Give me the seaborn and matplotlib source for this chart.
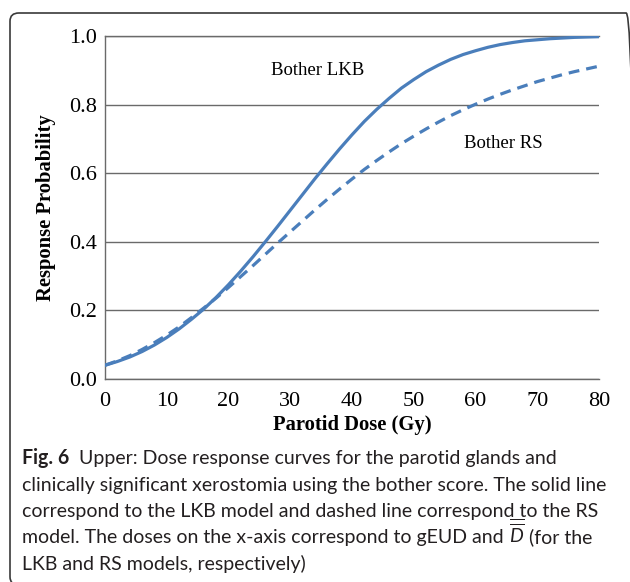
import matplotlib
matplotlib.use("Agg")
import numpy as np
import pandas as pd
import seaborn as sns
import matplotlib.pyplot as plt
from matplotlib.ticker import MultipleLocator
from matplotlib.patches import FancyBboxPatch

# ---- data ----
dose = [0, 2, 4, 6, 8, 10, 12, 14, 16, 18, 20, 22, 24, 26, 28, 30, 32, 34, 36, 38,
        40, 42, 44, 46, 48, 50, 52, 54, 56, 58, 60, 62, 64, 66, 68, 70, 72, 74, 76, 78, 80]
bother_lkb = [0.040, 0.051, 0.064, 0.080, 0.099, 0.121, 0.146, 0.174, 0.204, 0.238,
              0.275, 0.315, 0.357, 0.401, 0.446, 0.492, 0.538, 0.584, 0.628, 0.671,
              0.712, 0.751, 0.786, 0.818, 0.848, 0.873, 0.896, 0.915, 0.932, 0.946,
              0.957, 0.967, 0.975, 0.981, 0.986, 0.989, 0.992, 0.994, 0.996, 0.997, 0.998]
bother_rs = [0.040, 0.053, 0.068, 0.086, 0.106, 0.128, 0.152, 0.179, 0.207, 0.236,
             0.267, 0.299, 0.331, 0.364, 0.397, 0.429, 0.461, 0.493, 0.524, 0.554,
             0.583, 0.611, 0.637, 0.662, 0.686, 0.708, 0.729, 0.749, 0.768, 0.785,
             0.801, 0.816, 0.830, 0.843, 0.855, 0.867, 0.877, 0.887, 0.896, 0.904, 0.912]
model_names = ["LKB", "RS"]
curve_labels = ["Bother LKB", "Bother RS"]
x_ticks = [0, 10, 20, 30, 40, 50, 60, 70, 80]
y_ticks = [0.0, 0.2, 0.4, 0.6, 0.8, 1.0]

caption_lines = [
    [("Fig. 6", "bold", "normal"), ("  Upper: Dose response curves for the parotid glands and", "normal", "normal")],
    [("clinically significant xerostomia using the bother score. The solid line", "normal", "normal")],
    [("correspond to the LKB model and dashed line correspond to the RS", "normal", "normal")],
    [("model. The doses on the x-axis correspond to gEUD and ", "normal", "normal"),
     (r"$\overline{\overline{D}}$", "normal", "normal"), (" (for the", "normal", "normal")],
    [("LKB and RS models, respectively)", "normal", "normal")],
]

W, H = 630, 582
sns.set_theme(style="white")
plt.rcParams["font.family"] = ["Liberation Serif", "DejaVu Serif"]
plt.rcParams["mathtext.fontset"] = "custom"
plt.rcParams["mathtext.it"] = "Lato:italic"
plt.rcParams["mathtext.rm"] = "Lato"

fig = plt.figure(figsize=(W / 100, H / 100), dpi=100)
fig.patch.set_facecolor("white")

ax = fig.add_axes([105 / W, 1 - 379 / H, 494 / W, 343 / H])
ax.set_facecolor("white")

df = pd.DataFrame({
    "dose": dose + dose,
    "prob": bother_lkb + bother_rs,
    "model": [model_names[0]] * len(dose) + [model_names[1]] * len(dose),
})
blue = "#4a7ebb"
sns.lineplot(data=df, x="dose", y="prob", style="model",
             dashes={"LKB": "", "RS": (3.4, 2.2)}, color=blue, linewidth=2.3,
             legend=False, ax=ax, zorder=3)

ax.set_xlim(0, 80)
ax.set_ylim(0, 1.0)
ax.set_xticks(x_ticks)
ax.set_xticklabels([str(v) for v in x_ticks])
ax.set_yticks(y_ticks)
ax.set_yticklabels([f"{v:.1f}" for v in y_ticks])
ax.xaxis.set_minor_locator(MultipleLocator(5))
ax.yaxis.set_minor_locator(MultipleLocator(0.04))

gcol = "#6a6a6a"
ax.yaxis.grid(True, color=gcol, linewidth=1.0)
ax.xaxis.grid(False)
for s in ["left", "bottom", "top"]:
    ax.spines[s].set_visible(True)
    ax.spines[s].set_color(gcol)
    ax.spines[s].set_linewidth(1.0)
ax.spines["right"].set_visible(False)

ax.tick_params(axis="both", which="both", direction="in", colors=gcol,
               labelcolor="black", labelsize=16)
ax.tick_params(axis="x", which="major", length=5, width=1, pad=9, top=False)
ax.tick_params(axis="x", which="minor", length=4, width=1, top=False)
ax.tick_params(axis="y", which="major", length=4, width=1, pad=6, right=False)
ax.tick_params(axis="y", which="minor", length=4, width=1, right=False)

ax.set_xlabel("Parotid Dose (Gy)", fontsize=14.9, fontweight="bold", color="black")
ax.set_ylabel("Response Probability", fontsize=14.9, fontweight="bold", color="black")
ax.xaxis.set_label_coords(0.5, -0.104)
ax.yaxis.set_label_coords(-0.100, 0.5)

ax.text(34.5, 0.90, curve_labels[0], fontsize=13.5, ha="center", va="center", color="black")
ax.text(64.5, 0.688, curve_labels[1], fontsize=13.5, ha="center", va="center", color="black")

# ---- rounded frame ----
frame = FancyBboxPatch((10 / W, 1 - 585 / H), 625 / W, 572 / H,
                       boxstyle="round,pad=0,rounding_size=0.014",
                       transform=fig.transFigure, fill=False,
                       edgecolor="#3a3a3a", linewidth=1.2, clip_on=False)
fig.add_artist(frame)

# ---- caption ----
cap_family = ["Lato", "DejaVu Sans"]
renderer = fig.canvas.get_renderer()
probe = fig.text(0, 0, caption_lines[1][0][0], fontsize=10, family=cap_family)
wid = probe.get_window_extent(renderer).width
probe.remove()
cap_size = 10 * 586 / wid

baselines = [464, 490.5, 517, 543.5, 570]
for segs, yb in zip(caption_lines, baselines):
    x = 22
    for txt, wt, st in segs:
        t = fig.text(x / W, 1 - yb / H, txt, fontsize=cap_size, fontweight=wt,
                     fontstyle=st, family=cap_family, color="#231f20",
                     ha="left", va="baseline")
        bb = t.get_window_extent(renderer)
        x = bb.x1

fig.savefig("out.png", dpi=100, facecolor="white")
